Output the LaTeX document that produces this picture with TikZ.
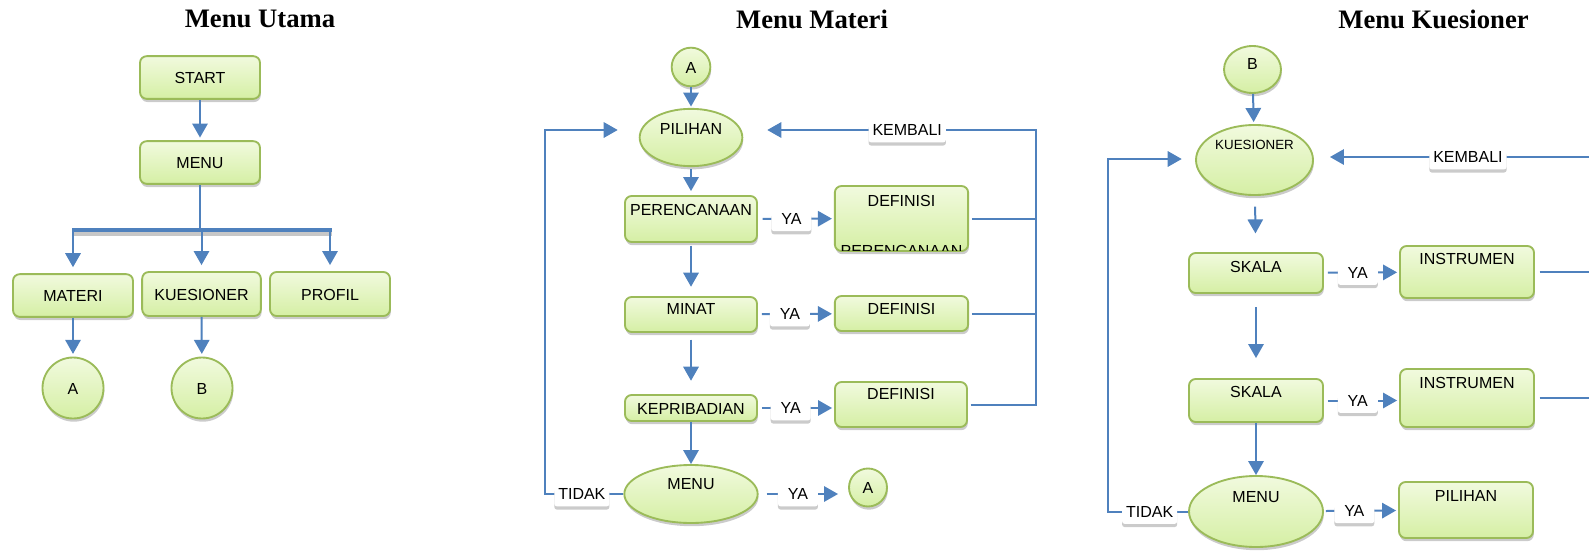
\documentclass[tikz,border=0pt]{standalone}
\usepackage{fontspec}
\setmainfont{Liberation Sans}
\newfontfamily\headfont{Liberation Serif}
\usepackage{tikz}
\usetikzlibrary{calc}
\usetikzlibrary{arrows.meta}
\usetikzlibrary{shapes.geometric}
\usetikzlibrary{shadows}

\definecolor{flowBlue}{RGB}{79,129,189}
\definecolor{boxEdge}{RGB}{155,187,89}
\definecolor{boxTop}{RGB}{241,250,222}
\definecolor{boxBottom}{RGB}{213,239,164}

\tikzset{
	box/.style={
		draw=boxEdge,
		line width=1.4pt,
		rounded corners=5pt,
		top color=boxTop,
		bottom color=boxBottom,
		drop shadow={shadow xshift=0.6pt, shadow yshift=-2.4pt, fill=black!45, opacity=0.45},
		font=\fontsize{12}{14}\selectfont,
		text height=9pt,
		text depth=0pt,
		inner sep=1pt
	},
	oval/.style={box, ellipse, sharp corners},
	circ/.style={box, circle, sharp corners},
	tag/.style={
		fill=white,
		rounded corners=2pt,
		drop shadow={shadow xshift=0pt, shadow yshift=-2.4pt, fill=black!45, opacity=0.45},
		font=\fontsize{12}{14}\selectfont,
		text=black,
		text height=8.5pt,
		text depth=3.5pt,
		inner xsep=3pt,
		inner ysep=1.5pt,
		minimum width=30pt,
		yshift=-1.8pt
	},
	flow/.style={draw=flowBlue, line width=1.5pt, -{Triangle[length=10.5pt, width=11.5pt]}},
	link/.style={draw=flowBlue, line width=1.5pt},
	bus/.style={draw=flowBlue, line width=3.4pt,
		preaction={draw=black!22, line width=3.4pt, transform canvas={yshift=-3pt}}},
	title/.style={font=\headfont\bfseries\fontsize{20}{24}\selectfont,
		text height=13pt, text depth=0pt, inner sep=0pt}
}

\begin{document}
\begin{tikzpicture}[x=0.75pt, y=-0.75pt]
\useasboundingbox (0,0) rectangle (1589,550);

% Menu Utama
\node[title] (titleUtama) at (260,19) {Menu Utama};

\node[
	box,
	minimum width=90pt,
	minimum height=32pt
] (start) at (200,77.5) {START};

\node[
	box,
	minimum width=90pt,
	minimum height=32pt
] (menuU) at (200,162.5) {MENU};

\node[
	box,
	minimum width=90pt,
	minimum height=32pt
] (materi) at (73,295.5) {MATERI};

\node[
	box,
	minimum width=89pt,
	minimum height=33pt
] (kuesioner) at (201.5,294) {KUESIONER};

\node[
	box,
	minimum width=90pt,
	minimum height=33pt
] (profil) at (330,294) {PROFIL};

\node[
	circ,
	minimum size=45.75pt
] (circA) at (73,388) {A};

\node[
	circ,
	minimum size=45.75pt
] (circB) at (202,388) {B};

\coordinate (busL) at (72,230);
\coordinate (busR) at (332,230);

\draw[flow, shorten >=2pt] (start) -- (menuU);
\draw[link] (menuU) -- (menuU.south |- busL);
\draw[bus] (busL) -- (busR);
\draw[flow, shorten >=4.5pt] (materi.north |- busL) -- (materi);
\draw[flow, shorten >=4.5pt] (kuesioner.north |- busL) -- (kuesioner);
\draw[flow, shorten >=4.5pt] (profil.north |- busL) -- (profil);
\draw[flow, shorten >=2pt] (materi) -- (circA);
\draw[flow, shorten >=2pt] (kuesioner) -- (circB);

% Menu Materi
\node[title] (titleMateri) at (812,20) {Menu Materi};

\node[
	circ,
	minimum size=29pt
] (a1) at (691,67) {A};

\node[
	oval,
	minimum width=77pt,
	minimum height=43pt,
	text depth=13.2pt
] (pilihan) at (691,137.5) {PILIHAN};

\node[
	box,
	minimum width=99pt,
	minimum height=34.5pt,
	text depth=13.9pt
] (pere) at (691,219) {PERENCANAAN};

\node[
	box,
	minimum width=100pt,
	minimum height=48.75pt,
	text depth=26.6pt
] (def1) at (901.5,218.5) {DEFINISI};

\begin{scope}
\clip ([shift={(1.4pt,1.4pt)}]def1.south west) rectangle ([shift={(-1.4pt,-1.4pt)}]def1.north east);
\node[
	anchor=north,
	inner sep=0pt,
	font=\fontsize{12}{14}\selectfont,
	text height=8.6pt
] (def1tail) at ([yshift=5.2pt]def1.south) {PERENCANAAN};
\end{scope}

\node[
	box,
	minimum width=99pt,
	minimum height=26.25pt,
	text depth=8.6pt
] (minat) at (691,314.5) {MINAT};

\node[
	box,
	minimum width=100pt,
	minimum height=26.25pt,
	text depth=7.2pt
] (def2) at (901.5,313.5) {DEFINISI};

\node[
	box,
	minimum width=99pt,
	minimum height=19.5pt
] (kepri) at (691,408) {KEPRIBADIAN};

\node[
	box,
	minimum width=99pt,
	minimum height=33.75pt,
	text depth=16.2pt
] (def3) at (901,404.5) {DEFINISI};

\node[
	oval,
	minimum width=100pt,
	minimum height=43.5pt,
	text depth=15.4pt
] (menuM) at (691,494) {MENU};

\node[
	circ,
	minimum size=28.5pt
] (a2) at (868,487.5) {A};

\coordinate (rtM) at (1036,130);
\coordinate (ltM) at (545,130);

\draw[flow, shorten >=1pt] (a1) -- (pilihan);
\draw[flow, shorten <=1.5pt, shorten >=3pt] (pilihan) -- (pere);
\draw[flow, shorten <=2pt, shorten >=7pt] (pere) -- (minat);
\draw[flow, shorten <=5pt, shorten >=10pt] (minat) -- (kepri);
\draw[flow] (kepri) -- (menuM);

% ---

\draw[flow, shorten <=3.5pt, shorten >=1.5pt] (pere) -- (def1)
	node[tag, pos=0.44]{YA};
\draw[flow, shorten <=3pt, shorten >=1.5pt] (minat) -- (def2)
	node[tag, pos=0.42]{YA};
\draw[flow, shorten <=3pt, shorten >=1.5pt] (kepri.east) -- (kepri.east -| def3.west)
	node[tag, pos=0.43]{YA};
\draw[flow, shorten <=6pt, shorten >=7.5pt] (menuM.east) -- (menuM.east -| a2.west)
	node[tag, pos=0.44]{YA};

% ---

\draw[link, shorten <=2pt] (def1) -- (def1 -| rtM);
\draw[link, shorten <=2pt] (def2) -- (def2 -| rtM);
\draw[flow, shorten <=2pt, shorten >=18pt] (def3.east) -| (rtM) -- (rtM -| pilihan.east)
	node[tag, pos=0.44]{KEMBALI};
\draw[flow, shorten >=15.75pt] (menuM.west) -| (ltM)
	node[tag, pos=0.265]{TIDAK} -- (ltM -| pilihan.west);

% Menu Kuesioner
\node[title] (titleKues) at (1433.5,20) {Menu Kuesioner};

\node[
	oval,
	minimum width=42.75pt,
	minimum height=35.25pt,
	text depth=8.6pt
] (b2) at (1252.5,69.5) {B};

\node[
	oval,
	minimum width=87.75pt,
	minimum height=52.5pt,
	font=\fontsize{10}{12}\selectfont,
	text height=7.5pt,
	text depth=22.8pt
] (kues) at (1254.5,160) {KUESIONER};

\node[
	box,
	minimum width=100.5pt,
	minimum height=30pt,
	text depth=9.4pt
] (skala1) at (1256,273) {SKALA};

\node[
	box,
	minimum width=100.5pt,
	minimum height=39pt,
	text depth=19.9pt
] (inst1) at (1467,272) {INSTRUMEN};

\node[
	box,
	minimum width=100.5pt,
	minimum height=32.25pt,
	text depth=13.2pt
] (skala2) at (1256,400.5) {SKALA};

\node[
	box,
	minimum width=100.5pt,
	minimum height=43.5pt,
	text depth=22.9pt
] (inst2) at (1467,398) {INSTRUMEN};

\node[
	oval,
	minimum width=100.5pt,
	minimum height=53.25pt,
	text depth=22.2pt
] (menuK) at (1256,511.5) {MENU};

\node[
	box,
	minimum width=100.5pt,
	minimum height=42pt,
	text depth=21.4pt
] (pilihK) at (1466,510) {PILIHAN};

\coordinate (kEdge) at (1589,157);
\coordinate (ltK) at (1108,159);

\draw[flow, shorten >=1.5pt] (b2) -- (kues);
\draw[flow, shorten <=8pt, shorten >=14pt] (kues) -- (skala1);
\draw[flow, shorten <=10pt, shorten >=15pt] (skala1) -- (skala2);
\draw[flow] (skala2) -- (menuK);

% ---

\draw[flow, shorten <=3pt, shorten >=1.5pt] (skala1) -- (inst1)
	node[tag, pos=0.45]{YA};
\draw[flow, shorten <=3pt, shorten >=1.5pt] (skala2.east) -- (skala2.east -| inst2.west)
	node[tag, pos=0.45]{YA};
\draw[flow, shorten <=1.5pt, shorten >=1.5pt] (menuK) -- (pilihK)
	node[tag, pos=0.41]{YA};

% ---

\draw[link, shorten <=3.5pt] (inst1) -- (inst1 -| kEdge);
\draw[link, shorten <=3.5pt] (inst2) -- (inst2 -| kEdge);
\draw[flow, shorten >=12pt] (kEdge) -- (kEdge -| kues.east)
	node[tag, pos=0.44]{KEMBALI};
\draw[flow, shorten >=10pt] (menuK.west) -| (ltK)
	node[tag, pos=0.24]{TIDAK} -- (ltK -| kues.west);

\end{tikzpicture}
\end{document}
